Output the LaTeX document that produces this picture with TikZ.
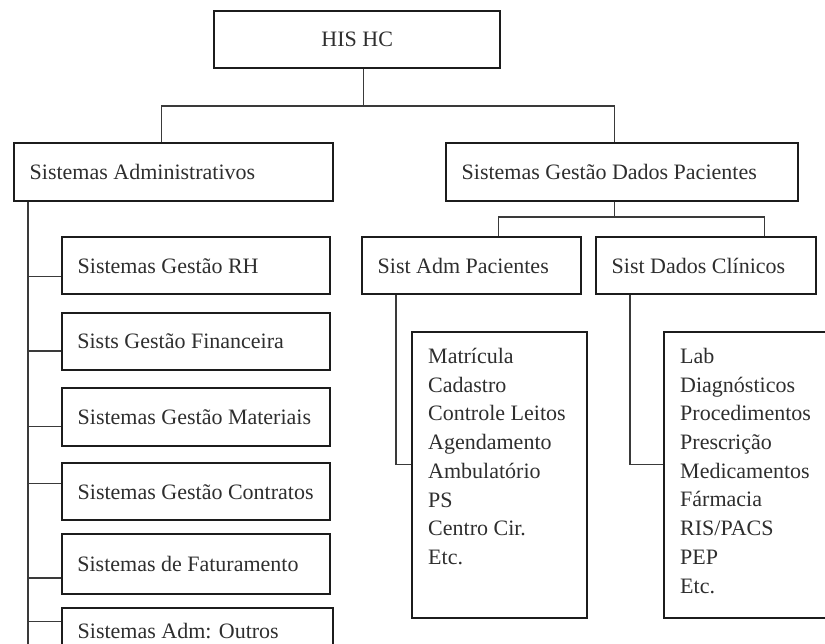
\documentclass[tikz,border=0pt]{standalone}
\usepackage{fontspec}
\setmainfont{Liberation Serif}
\definecolor{boxline}{HTML}{1C1C1C}
\definecolor{linkc}{HTML}{3A3A3A}
\definecolor{txt}{HTML}{2E2E2E}
% fixed-width label so a box never wraps its title
\newcommand\lab[2]{\makebox[#1][l]{#2}}
\begin{document}
\begin{tikzpicture}[x=1pt,y=-1pt,
  box/.style={draw=boxline, line width=2.4pt, anchor=north west, inner ysep=0pt,
    inner xsep=15.5pt, font=\fontsize{22}{26}\selectfont, text=txt},
  lightbox/.style={box, line width=1.7pt},
  listbox/.style={draw=boxline, line width=2.4pt, anchor=north west, inner sep=16pt,
    text=txt},
  link/.style={draw=linkc, line width=1.4pt},
]
\useasboundingbox (0,0) rectangle (825,643);
\clip (0,0) rectangle (825,643);

% root and first level
\node[box, minimum height=57pt] (his) at (213,10) {\makebox[255pt][c]{HIS HC}};
\node[box, minimum height=58pt] (sa) at (13,142) {\lab{288pt}{Sistemas Administrativos}};
\node[box, minimum height=58pt] (sgdp) at (445,142) {\lab{321pt}{Sistemas Gestão Dados Pacientes}};

% patient data systems
\node[box, minimum height=57pt] (sap) at (361,236) {\lab{188pt}{Sist Adm Pacientes}};
\node[box, minimum height=57pt] (sdc) at (595,236) {\lab{189pt}{Sist Dados Clínicos}};

% administrative systems
\node[box, minimum height=57pt] (rh) at (61,236) {\lab{237pt}{Sistemas Gestão RH}};
\node[lightbox, minimum height=57pt] (fin) at (61,312) {\lab{237pt}{Sists Gestão Financeira}};
\node[box, minimum height=58pt] (mat) at (61,387) {\lab{237pt}{Sistemas Gestão Materiais}};
\node[box, minimum height=57pt] (con) at (61,462) {\lab{237pt}{Sistemas Gestão Contratos}};
\node[lightbox, minimum height=60pt] (fat) at (61,533) {\lab{237pt}{Sistemas de Faturamento}};
\node[box, minimum height=45pt] (out) at (61,607) {\lab{240pt}{Sistemas Adm: Outros}};

% module lists
\node[listbox] (lap) at (411,331) {\begin{minipage}[t][254pt][t]{143pt}
  \fontsize{22}{28.7}\selectfont
  Matrícula\\ Cadastro\\ Controle Leitos\\ Agendamento\\ Ambulatório\\ PS\\ Centro Cir.\\ Etc.
\end{minipage}};
\node[listbox] (ldc) at (663,331) {\begin{minipage}[t][254pt][t]{160pt}
  \fontsize{22}{28.7}\selectfont
  Lab\\ Diagnósticos\\ Procedimentos\\ Prescrição\\ Medicamentos\\ Fármacia\\ RIS/PACS\\ PEP\\ Etc.
\end{minipage}};

% connectors: root to first level
\coordinate (bus1) at (0,106);
\draw[link] ([xshift=6pt]his.south) -- ([xshift=6pt]his.south |- bus1);
\draw[link] ([xshift=-12.5pt]sa.north) |- ([xshift=-8pt]sgdp.north |- bus1) -- ([xshift=-8pt]sgdp.north);

% connectors: patient data split
\coordinate (bus2) at (0,217);
\draw[link] ([xshift=-8pt]sgdp.south) -- ([xshift=-8pt]sgdp.south |- bus2);
\draw[link] ([xshift=26.5pt]sap.north) |- ([xshift=58pt]sdc.north |- bus2) -- ([xshift=58pt]sdc.north);

% connectors: lists
\draw[link] ([xshift=35pt]sap.south west) |- ([yshift=11pt]lap.west);
\draw[link] ([xshift=35pt]sdc.south west) |- ([yshift=11pt]ldc.west);

% administrative trunk and branches
\draw[link] ([xshift=15pt]sa.south west) -- ++(0,450);
\draw[link] ([yshift=-10.5pt]rh.west) -- ++(-33,0);
\draw[link] ([yshift=-9.5pt]fin.west) -- ++(-33,0);
\draw[link] ([yshift=-9pt]mat.west) -- ++(-33,0);
\draw[link] ([yshift=8.5pt]con.west) -- ++(-33,0);
\draw[link] ([yshift=-14pt]fat.west) -- ++(-33,0);
\draw[link] ([yshift=9.5pt]out.west) -- ++(-33,0);
\end{tikzpicture}
\end{document}
